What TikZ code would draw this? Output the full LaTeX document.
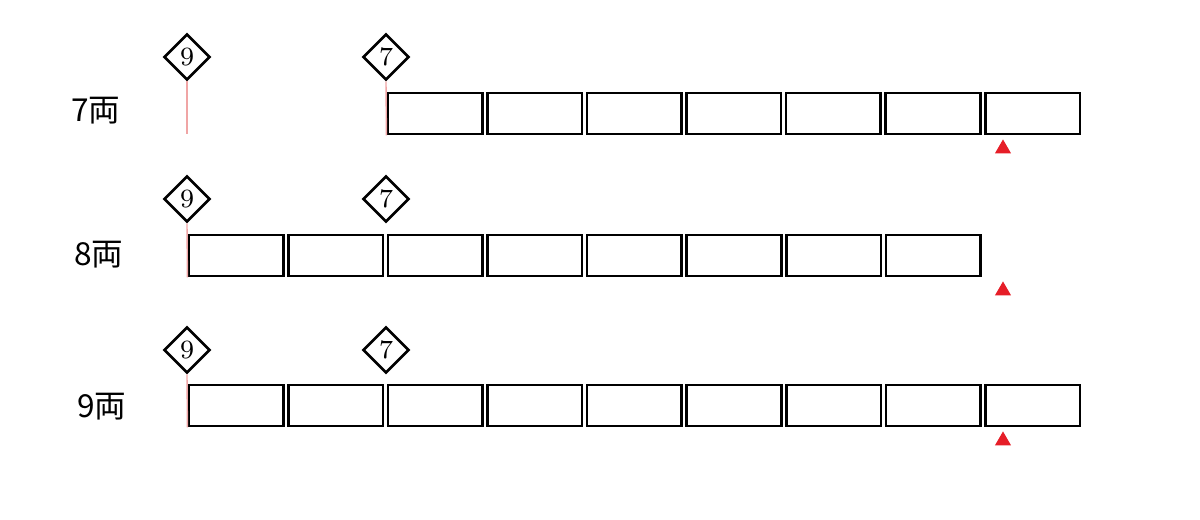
\documentclass[tikz,border=0pt]{standalone}
\usepackage{fontspec}
\usepackage{tikz}
\usetikzlibrary{shapes.geometric}
\newfontfamily\jpfont{Noto Sans CJK JP}
\definecolor{signline}{RGB}{240,165,165}
\definecolor{stopred}{RGB}{230,30,40}

\begin{document}
\begin{tikzpicture}[car/.style = {draw, line width=0.75pt, minimum width=9.45mm, minimum height=4.1mm, inner sep=0pt},
  sign/.style = {draw, diamond, line width=0.75pt, minimum size=4.6mm, inner sep=0pt, font=\fontsize{7.5pt}{8pt}\selectfont, fill=white},
  stopmark/.style = {regular polygon, regular polygon sides=3, fill=stopred, minimum size=1.85mm, inner sep=0pt, anchor=north},
  rowlabel/.style = {font=\jpfont\fontsize{9pt}{10pt}\selectfont},
  node distance={9.96mm}]
\useasboundingbox (0,0) rectangle (12,-5.19);
% 7両
\node[rowlabel] (l7) at (0.96,-1.11) {7両};
\node[car] (a1) at (4.35,-1.135) {};
\node[car] (a2) [right of=a1] {};
\node[car] (a3) [right of=a2] {};
\node[car] (a4) [right of=a3] {};
\node[car] (a5) [right of=a4] {};
\node[car] (a6) [right of=a5] {};
\node[car] (a7) [right of=a6] {};
\node[sign] (s9a) at (1.87,-0.57) {9};
\node[sign] (s7a) at (3.86,-0.57) {7};
\coordinate (e9a) at (1.87,-1.34);
\draw[signline] (s9a.south) -- (e9a);
\draw[signline] (s7a.south) -- (a1.south west);
\node[stopmark] (ta) at (10.03,-1.38) {};
% 8両
\node[rowlabel] (l8) at (0.99,-2.55) {8両};
\node[car] (b1) at (2.36,-2.555) {};
\node[car] (b2) [right of=b1] {};
\node[car] (b3) [right of=b2] {};
\node[car] (b4) [right of=b3] {};
\node[car] (b5) [right of=b4] {};
\node[car] (b6) [right of=b5] {};
\node[car] (b7) [right of=b6] {};
\node[car] (b8) [right of=b7] {};
\node[sign] (s9b) at (1.87,-1.99) {9};
\node[sign] (s7b) at (3.86,-1.99) {7};
\draw[signline] (s9b.south) -- (b1.south west);
\node[stopmark] (tb) at (10.03,-2.80) {};
% 9両
\node[rowlabel] (l9) at (1.02,-4.07) {9両};
\node[car] (c1) at (2.36,-4.055) {};
\node[car] (c2) [right of=c1] {};
\node[car] (c3) [right of=c2] {};
\node[car] (c4) [right of=c3] {};
\node[car] (c5) [right of=c4] {};
\node[car] (c6) [right of=c5] {};
\node[car] (c7) [right of=c6] {};
\node[car] (c8) [right of=c7] {};
\node[car] (c9) [right of=c8] {};
\node[sign] (s9c) at (1.87,-3.50) {9};
\node[sign] (s7c) at (3.86,-3.50) {7};
\draw[signline] (s9c.south) -- (c1.south west);
\node[stopmark] (tc) at (10.03,-4.30) {};
\end{tikzpicture}
\end{document}
